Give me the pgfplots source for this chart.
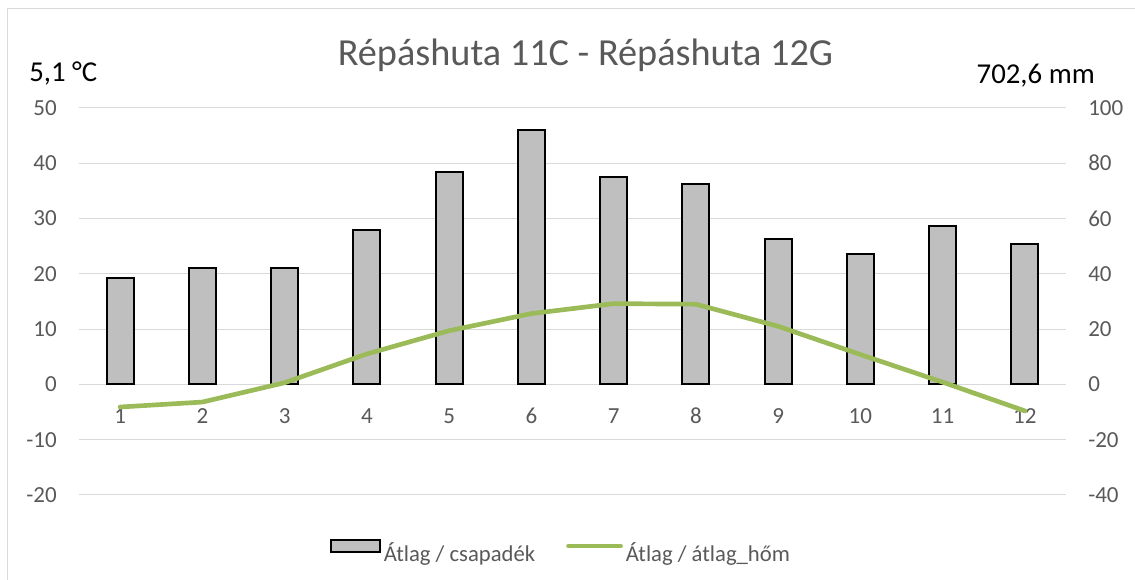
\documentclass[border=0pt]{standalone}
\usepackage{fontspec}
\setmainfont{Carlito}
\usepackage{pgfplots}
\pgfplotsset{compat=1.18}
\definecolor{gridc}{HTML}{D9D9D9}
\definecolor{lab}{HTML}{595959}
\definecolor{bargray}{HTML}{BFBFBF}
\definecolor{lgreen}{HTML}{9BBB59}
\pgfplotsset{
  barlegend/.style={legend image code/.code={\draw[##1] (0pt,0.5pt) rectangle (36.75pt,10pt);}},
  linelegend/.style={legend image code/.code={\draw[##1] (0pt,5.25pt) -- (39pt,5.25pt);}}}
\begin{document}
\begin{tikzpicture}
\useasboundingbox (0,0) rectangle (851.25pt,435pt);
\draw[color=gridc, line width=0.75pt] (5.25pt,0) -- (5.25pt,428.25pt) -- (851.25pt,428.25pt);
\pgfplotsset{common/.style={scale only axis, width=740.25pt, height=290.25pt,
  at={(59.25pt,63.8pt)}, anchor=south west, xmin=0.5, xmax=12.5,
  axis line style={draw=none}, tick style={draw=none}, major tick length=0pt,
  /pgf/number format/assume math mode=true,
  ticklabel style={font=\fontsize{17.25pt}{20pt}\selectfont, text=lab}}}
\begin{axis}[common, ymin=-40, ymax=100, ytick={-40,-20,...,100}, yticklabel pos=right,
  ymajorgrids, grid style={gridc, line width=0.75pt}, xtick=\empty,
  yticklabel style={anchor=west, inner sep=0pt, xshift=16.5pt}]
\addplot[ybar, bar width=20.25pt, fill=bargray, draw=black, line width=1.5pt] coordinates {
(1,38.6) (2,42.2) (3,42.2) (4,55.8) (5,76.8) (6,92.0) (7,75.1) (8,72.6) (9,52.6) (10,47.0) (11,57.2) (12,50.7)};
\end{axis}
\begin{axis}[common, ymin=-20, ymax=50, ytick={-20,-10,...,50}, xtick={1,...,12},
  yticklabel style={anchor=east, inner sep=0pt, xshift=-16.5pt},
  xticklabel style={anchor=north, inner sep=0pt, yshift=65.2pt},
  legend columns=2,
  legend style={at={(0.4872,-0.145)}, anchor=center, draw=none, fill=none,
    font=\fontsize{17pt}{20pt}\selectfont, text=lab, inner sep=0pt,
    nodes={inner sep=0pt},
    /tikz/every odd column/.append style={column sep=2.25pt},
    /tikz/every even column/.append style={column sep=23.25pt}},
  legend cell align=left]
\addlegendimage{barlegend, fill=bargray, draw=black, line width=1.5pt}
\addlegendentry{Átlag / csapadék}
\addplot[linelegend, color=lgreen, line width=3.5pt, line cap=round, line join=round, no marks] coordinates {
(1,-4.1) (2,-3.2) (3,0.3) (4,5.5) (5,9.7) (6,12.8) (7,14.6) (8,14.5) (9,10.5) (10,5.4) (11,0.4) (12,-4.8)};
\addlegendentry{Átlag / átlag\_hőm}
\end{axis}
\node[anchor=base, text=lab, font=\fontsize{28.7pt}{33pt}\selectfont] at (439.1pt,386pt) {Répáshuta 11C - Répáshuta 12G};
\node[anchor=base west, inner sep=0pt, font=\fontsize{21.6pt}{25pt}\selectfont] at (21.75pt,373.7pt) {5,1 °C};
\node[anchor=base east, inner sep=0pt, font=\fontsize{21.6pt}{25pt}\selectfont] at (821.25pt,372.5pt) {702,6 mm};
\end{tikzpicture}
\end{document}
